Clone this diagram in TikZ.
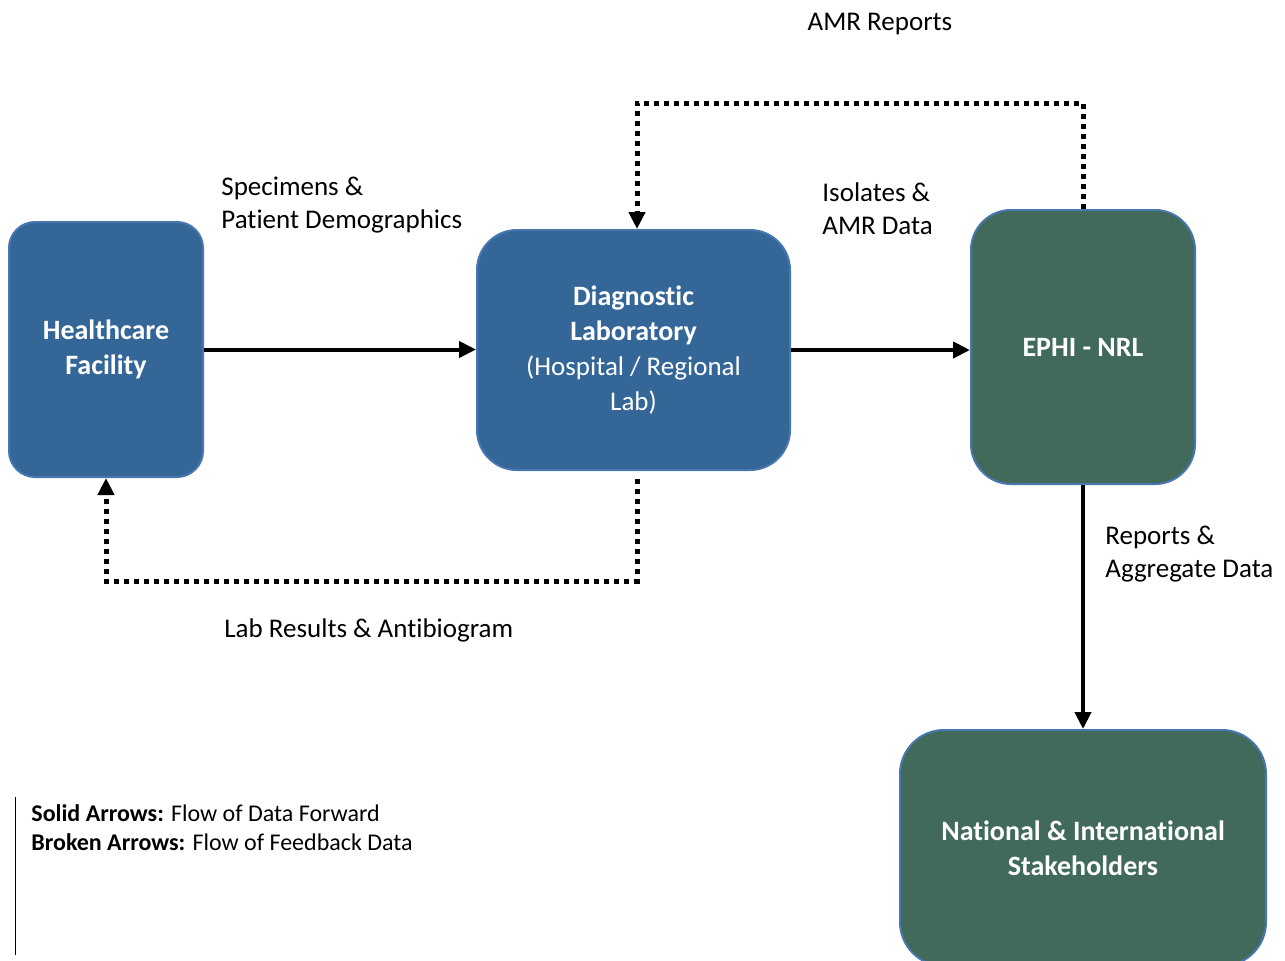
\documentclass[tikz,border=0pt]{standalone}
\usepackage{fontspec}
\setmainfont{Carlito}[Ligatures=NoCommon]
\usetikzlibrary{arrows.meta}

\definecolor{labblue}{RGB}{52,103,151}
\definecolor{nrlgreen}{RGB}{65,106,90}
\definecolor{edgeblue}{RGB}{72,118,176}

\tikzset{
  box/.style={rectangle, draw=edgeblue, line width=1pt, text=white, align=center,
    font=\fontsize{14}{17.5}\selectfont, inner sep=0pt},
  bluebox/.style={box, fill=labblue},
  greenbox/.style={box, fill=nrlgreen},
  flow/.style={-{Triangle[length=8.5pt,width=8pt]}, line width=2pt},
  feedback/.style={-{Triangle[length=8.5pt,width=8pt]}, line width=2.5pt, dash pattern=on 2.5pt off 2.5pt},
  lbl/.style={align=left, anchor=west, inner sep=0pt, font=\fontsize{13.5}{16.5}\selectfont}
}

\begin{document}
\begin{tikzpicture}[x=0.5pt, y=-0.5pt]
    \useasboundingbox (0,0) rectangle (1285,960);

    % boxes
    \node [bluebox, minimum width=97pt, minimum height=127.5pt, rounded corners=13pt] (hf) at (106,349.5)
        {\bfseries Healthcare\\\bfseries Facility};
    \node [bluebox, minimum width=156.5pt, minimum height=120pt, rounded corners=20pt] (dl) at (633.5,350)
        {\bfseries Diagnostic\\\bfseries Laboratory\\\fontsize{13.5}{16.5}\selectfont(Hospital / Regional\\\fontsize{13.5}{16.5}\selectfont Lab)};
    \node [greenbox, minimum width=112pt, minimum height=137pt, rounded corners=20pt] (nrl) at (1083,347)
        {\bfseries EPHI - NRL};
    \node [greenbox, minimum width=183pt, minimum height=118pt, rounded corners=22pt] (nat) at (1083,848)
        {\bfseries National \& International\\\bfseries Stakeholders};

    % labels
    \node [lbl, anchor=center] (amr) at (880,24) {AMR Reports};
    \node [lbl] (spec) at (221,205.5) {Specimens \&\\Patient Demographics};
    \node [lbl] (iso) at (822,209) {Isolates \&\\AMR Data};
    \node [lbl] (rep) at (1105,554) {Reports \&\\Aggregate Data};
    \node [lbl] (res) at (224,630) {Lab Results \& Antibiogram};
    \node [lbl, font=\fontsize{12}{14.5}\selectfont] (key) at (31,828)
        {\textbf{Solid Arrows:} Flow of Data Forward\\\textbf{Broken Arrows:} Flow of Feedback Data};

    \coordinate (fbtop) at (0,103);
    \coordinate (fbbot) at (0,581);

    % forward data
    \draw [flow] (hf.east) -- (hf.east -| dl.west);
    \draw [flow] (dl.east) -- (dl.east -| nrl.west);
    \draw [flow] (nrl.south) -- (nat.north);

    % feedback
    \draw [feedback] ([shift={(1.75pt,-4pt)}]dl.south) -- ([xshift=1.75pt]dl.south |- fbbot) -- (hf.south |- fbbot) -- (hf.south);
    \draw [feedback] (nrl.north) -- (nrl.north |- fbtop) -- ([xshift=1.75pt]dl.north |- fbtop) -- ([xshift=1.75pt]dl.north);

    \draw [line width=0.5pt] (15,797) -- (15,955);
\end{tikzpicture}
\end{document}
